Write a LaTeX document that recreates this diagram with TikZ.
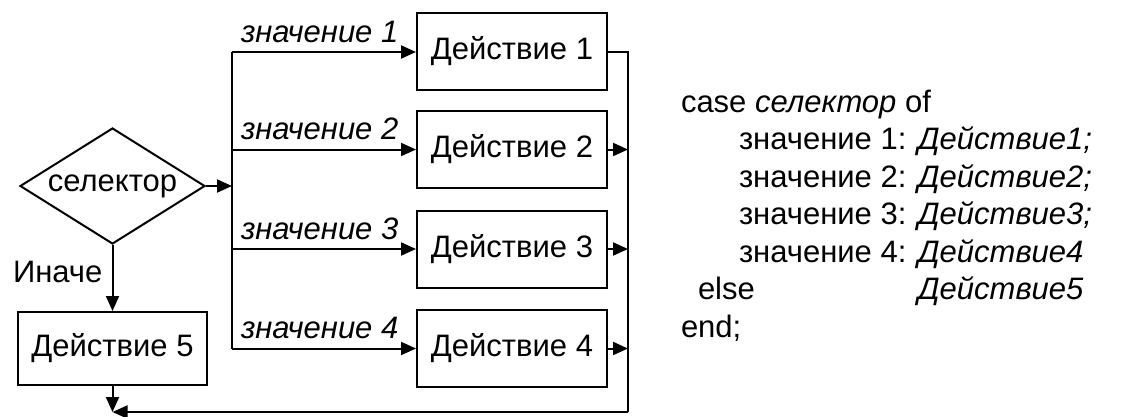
\documentclass[tikz,border=0pt]{standalone}
\usepackage{fontspec}
\setmainfont{Liberation Sans}
\usetikzlibrary{arrows.meta,shapes.geometric}
\begin{document}
\begin{tikzpicture}[x=1pt,y=-1pt,line width=2pt,
  txt/.style={font=\fontsize{31}{37}\selectfont},
  box/.style={draw,txt,minimum width=190pt,minimum height=77pt,inner sep=0pt},
  arr/.style={-{Triangle[length=15pt,width=13pt]}},
  lbl/.style={txt,anchor=base west,inner sep=0pt},
  ilbl/.style={lbl,font=\fontsize{31}{37}\selectfont\itshape}]
\useasboundingbox (0,0) rectangle (1125,416);
% nodes
\node[diamond,draw,txt,aspect=1.6,inner sep=0pt,minimum width=185pt,minimum height=116pt] (sel) at (112.5,186) {селектор};
\node[box] (b1) at (512,51) {Действие 1};
\node[box] (b2) at (512,149.5) {Действие 2};
\node[box] (b3) at (512,249) {Действие 3};
\node[box] (b4) at (512,348.5) {Действие 4};
\node[box,minimum width=189pt,minimum height=73pt] (b5) at (112.5,348.5) {Действие 5};
% junctions
\coordinate (j1) at (232,52);
\coordinate (j2) at (232,149.5);
\coordinate (j3) at (232,249);
\coordinate (j4) at (232,348.5);
\coordinate (r1) at (628,52);
\coordinate (rb) at (628,412);
\coordinate (lb) at (112.5,412);
% connectors
\draw[arr] (sel.east) -- (sel.east -| j1);
\draw (j1) -- (j4);
\draw[arr] (j1) -- (b1.west |- j1);
\draw[arr] (j2) -- (b2.west);
\draw[arr] (j3) -- (b3.west);
\draw[arr] (j4) -- (b4.west);
\draw (b1.east |- r1) -- (r1) -- (rb);
\draw[arr] (b2.east) -- (b2.east -| r1);
\draw[arr] (b3.east) -- (b3.east -| r1);
\draw[arr] (b4.east) -- (b4.east -| r1);
\draw[arr] (rb) -- (lb);
\draw[arr] (sel.south) -- (b5.north);
\draw[arr] (b5.south) -- (lb);
% branch labels
\node[ilbl] (v1) at (240,42) {значение 1};
\node[ilbl] (v2) at (240,139.5) {значение 2};
\node[ilbl] (v3) at (240,239) {значение 3};
\node[ilbl] (v4) at (240,338.5) {значение 4};
\node[lbl] (inache) at (12,282) {Иначе};
% code
\node[lbl] (c0) at (680,112) {case \textit{селектор} of};
\node[lbl] (c1) at (738,149.5) {значение 1: \textit{Действие1;}};
\node[lbl] (c2) at (738,187) {значение 2: \textit{Действие2;}};
\node[lbl] (c3) at (738,224.5) {значение 3: \textit{Действие3;}};
\node[lbl] (c4) at (738,262) {значение 4: \textit{Действие4}};
\node[lbl] (c5) at (697,299.5) {else};
\node[lbl] (d5) at (738,299.5) {\phantom{значение 4: }\textit{Действие5}};
\node[lbl] (c6) at (680,337) {end;};
\end{tikzpicture}
\end{document}
